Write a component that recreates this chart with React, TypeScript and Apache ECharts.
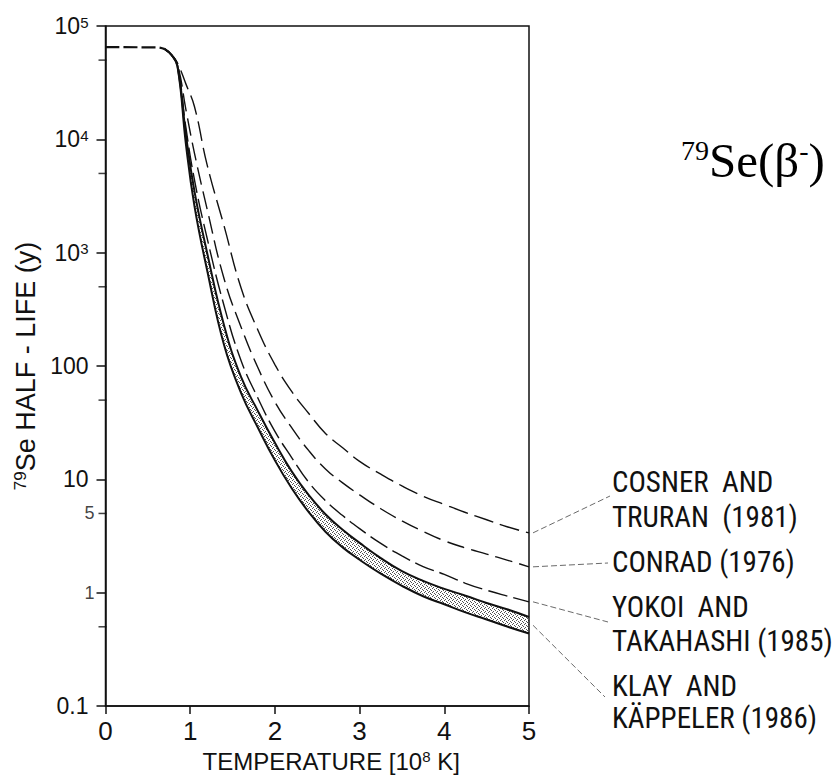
import React, { useEffect, useRef } from 'react';
import * as echarts from 'echarts';

// ---- data ----
// common flat part (ground-state half-life) before the curves split
const flatTemperature = [0, 0.6, 0.7];
const flatHalfLife = [65000, 64800, 62500];

// temperature grid (10^8 K) for the temperature-dependent curves
const temperature = [0.7, 0.78, 0.85, 0.95, 1.05, 1.2, 1.4, 1.6, 1.8, 2.0, 2.2, 2.4, 2.6, 2.8, 3.0, 3.25, 3.5, 3.75, 4.0, 4.25, 4.5, 4.75, 5.0];
const cosnerTruran = [62500, 55500, 47000, 30700, 19500, 5950, 1720, 490, 207, 103, 59.4, 38.1, 25.3, 19.0, 14.4, 11.1, 8.75, 7.1, 6.0, 5.1, 4.4, 3.8, 3.37];
const conrad = [62500, 55500, 46000, 18200, 7570, 2420, 589, 221, 96.4, 48.2, 28.4, 17.9, 12.3, 9.3, 7.3, 5.5, 4.3, 3.47, 2.87, 2.48, 2.19, 1.93, 1.69];
const yokoiTakahashi = [62500, 55500, 45000, 12600, 4400, 1340, 340, 112, 52, 26.5, 15.5, 9.4, 6.46, 4.79, 3.67, 2.72, 2.11, 1.70, 1.45, 1.21, 1.05, 0.93, 0.83];
const klayUpper = [62500, 55500, 44500, 10900, 3490, 995, 228, 80, 40, 21.0, 11.7, 7.24, 4.9, 3.59, 2.75, 2.02, 1.55, 1.27, 1.08, 0.94, 0.81, 0.71, 0.61];
const klayLower = [62500, 55500, 44000, 9000, 2590, 700, 153, 58, 28.5, 14.7, 8.3, 5.13, 3.43, 2.51, 1.95, 1.47, 1.15, 0.93, 0.79, 0.67, 0.58, 0.50, 0.436];

// axis ticks / labels
const xTicks = [0, 1, 2, 3, 4, 5];
const yDecadeLabels = ['0.1', '', '10', '100', '10{sup|3}', '10{sup|4}', '10{sup|5}']; // for 10^-1 .. 10^5
const yMinorTickValues = [50000, 5000, 500, 50, 5, 0.5];
const ySmallLabelValues = [5, 1];

// legend texts (right side)
const labelCosner = ['COSNER  AND', 'TRURAN  (1981)'];
const labelConrad = ['CONRAD (1976)'];
const labelYokoi = ['YOKOI  AND', 'TAKAHASHI (1985)'];
const labelKlay = ['KLAY  AND', 'KÄPPELER (1986)'];

const SANS = '"Liberation Sans", "Noto Sans", sans-serif';
const NARROW = '"Liberation Sans Narrow", "Roboto Condensed", "DejaVu Sans Condensed", "Liberation Sans", sans-serif';
const SERIF = '"Liberation Serif", "DejaVu Serif", serif';
const INK = '#111';

function pairs(xs: number[], ys: number[]) {
  return xs.map((x, i) => [x, ys[i]]);
}

function makeStipple(): HTMLCanvasElement {
  const cv = document.createElement('canvas');
  cv.width = 4;
  cv.height = 4;
  const ctx = cv.getContext('2d')!;
  ctx.fillStyle = '#ffffff';
  ctx.fillRect(0, 0, 4, 4);
  ctx.fillStyle = '#505050';
  [[0, 0], [2, 1], [1, 3], [3, 2]].forEach(([x, y]) => ctx.fillRect(x, y, 1, 1));
  return cv;
}

export default function App() {
  const ref = useRef<HTMLDivElement>(null);

  useEffect(() => {
    document.body.style.margin = '0';
    const chart = echarts.init(ref.current!, null, { renderer: 'svg' });

    const lineBase = {
      type: 'line' as const,
      symbol: 'none',
      showSymbol: false,
      smooth: 0.45,
      silent: true,
      z: 3,
    };

    // white mask below the lower Klay curve (includes the common flat part so no seam appears)
    const maskTemperature = flatTemperature.slice(0, -1).concat(temperature);
    const maskHalfLife = flatHalfLife.slice(0, -1).concat(klayLower);

    const option: any = {
      animation: false,
      backgroundColor: '#ffffff',
      grid: {
        left: 105.5,
        top: 26,
        width: 423.5,
        height: 680,
        show: true,
        borderColor: INK,
        borderWidth: 1.5,
        backgroundColor: 'transparent',
        containLabel: false,
        outerBoundsMode: 'none',
        z: 10,
      },
      xAxis: {
        type: 'value',
        z: 10,
        min: xTicks[0],
        max: xTicks[xTicks.length - 1],
        interval: 1,
        axisLine: { show: true, lineStyle: { color: INK, width: 1.5 } },
        axisTick: { show: true, inside: false, length: 8, lineStyle: { color: INK, width: 1.5 } },
        splitLine: { show: false },
        axisLabel: { fontSize: 26, color: INK, margin: 12, fontFamily: SANS },
        name: 'TEMPERATURE [10{sup|8} K]',
        nameLocation: 'middle',
        nameGap: 43,
        nameTextStyle: {
          fontSize: 24,
          color: INK,
          fontFamily: SANS,
          padding: [0, 0, 0, 28],
          rich: { sup: { fontSize: 15, verticalAlign: 'top', fontFamily: SANS, color: INK } },
        },
      },
      yAxis: {
        type: 'log',
        z: 10,
        logBase: 10,
        min: 0.1,
        max: 100000,
        axisLine: { show: true, lineStyle: { color: INK, width: 1.5 } },
        axisTick: { show: true, inside: false, length: 9, lineStyle: { color: INK, width: 1.5 } },
        splitLine: { show: false },
        minorTick: { show: false },
        axisLabel: {
          fontSize: 23,
          color: INK,
          margin: 17,
          fontFamily: SANS,
          formatter: (v: number) => {
            const e = Math.round(Math.log10(v));
            return yDecadeLabels[e + 1] ?? '';
          },
          rich: { sup: { fontSize: 15, verticalAlign: 'top', fontFamily: SANS, color: INK } },
        },
        name: '{sup|79}Se HALF - LIFE (y)',
        nameLocation: 'middle',
        nameGap: 58,
        nameTextStyle: {
          fontSize: 27,
          color: INK,
          fontFamily: SANS,
          rich: { sup: { fontSize: 17, verticalAlign: 'top', fontFamily: SANS, color: INK } },
        },
      },
      series: [
        {
          ...lineBase,
          name: 'Klay band',
          data: pairs(temperature, klayUpper),
          lineStyle: { opacity: 0 },
          areaStyle: { origin: 'start', color: { image: makeStipple(), repeat: 'repeat' }, opacity: 1 },
          z: 2,
        },
        {
          ...lineBase,
          name: 'mask',
          data: pairs(maskTemperature, maskHalfLife),
          lineStyle: { opacity: 0 },
          areaStyle: { origin: 'start', color: '#ffffff', opacity: 1 },
          z: 2,
        },
        {
          ...lineBase,
          name: 'Klay and Käppeler (1986) upper',
          data: pairs(temperature, klayUpper),
          lineStyle: { color: INK, width: 2, type: 'solid' },
          z: 4,
        },
        {
          ...lineBase,
          name: 'Klay and Käppeler (1986) lower',
          data: pairs(temperature, klayLower),
          lineStyle: { color: INK, width: 2, type: 'solid' },
          z: 4,
        },
        {
          ...lineBase,
          name: 'common',
          data: pairs(flatTemperature, flatHalfLife),
          lineStyle: { color: INK, width: 2.2, type: [14, 4] },
        },
        {
          ...lineBase,
          name: 'Cosner and Truran (1981)',
          data: pairs(temperature, cosnerTruran),
          lineStyle: { color: INK, width: 1.4, type: [20, 7] },
        },
        {
          ...lineBase,
          name: 'Conrad (1976)',
          data: pairs(temperature, conrad),
          lineStyle: { color: INK, width: 1.4, type: [18, 7] },
        },
        {
          ...lineBase,
          name: 'Yokoi and Takahashi (1985)',
          data: pairs(temperature, yokoiTakahashi),
          lineStyle: { color: INK, width: 1.4, type: [20, 6] },
        },
        {
          type: 'scatter',
          name: 'minor ticks',
          silent: true,
          clip: false,
          symbol: 'rect',
          symbolSize: [8, 1.5],
          symbolOffset: [-3, 0],
          itemStyle: { color: INK },
          data: yMinorTickValues.map((v) => [0, v]),
          z: 11,
        },
        {
          type: 'scatter',
          name: 'small labels',
          silent: true,
          clip: false,
          symbolSize: 0,
          itemStyle: { color: 'transparent' },
          data: ySmallLabelValues.map((v) => [0, v]),
          label: {
            show: true,
            position: 'left',
            distance: 11,
            fontSize: 18,
            color: INK,
            fontFamily: SANS,
            formatter: (p: any) => String(p.value[1]),
          },
          z: 11,
        },
      ],
    };

    chart.setOption(option);

    const last = temperature.length - 1;
    const px = (v: number) => chart.convertToPixel({ gridIndex: 0 }, [5, v]) as number[];
    const pC = px(cosnerTruran[last]);
    const pN = px(conrad[last]);
    const pY = px(yokoiTakahashi[last]);
    const pK = px(Math.sqrt(klayUpper[last] * klayLower[last]));
    const leader = (p: number[], x2: number, y2: number) => ({
      type: 'line',
      silent: true,
      shape: { x1: p[0] + 4, y1: p[1], x2, y2 },
      style: { stroke: '#444', lineWidth: 0.8, lineDash: [6, 3] },
    });
    const label = (text: string, y: number) => ({
      type: 'text',
      silent: true,
      x: 612,
      y,
      style: { text, fontSize: 29, fontFamily: NARROW, fill: INK, align: 'left', verticalAlign: 'middle' },
    });

    chart.setOption({
      graphic: [
        leader(pC, 610, 496),
        leader(pN, 608, 563),
        leader(pY, 608, 622),
        leader(pK, 605, 697),
        label(labelCosner[0], 482),
        label(labelCosner[1], 517),
        label(labelConrad[0], 562),
        label(labelYokoi[0], 607),
        label(labelYokoi[1], 641),
        label(labelKlay[0], 686),
        label(labelKlay[1], 718),
        {
          type: 'text',
          silent: true,
          x: 681,
          y: 136,
          style: {
            text: '{s|79}Se(β{m|-})',
            fontSize: 49,
            fontFamily: SERIF,
            fill: '#000',
            align: 'left',
            verticalAlign: 'top',
            rich: {
              s: { fontSize: 28, fontFamily: SERIF, verticalAlign: 'top', fill: '#000' },
              m: { fontSize: 28, fontFamily: SERIF, verticalAlign: 'top', fill: '#000' },
            },
          },
        },
      ],
    });

    return () => chart.dispose();
  }, []);

  return <div ref={ref} style={{ width: 834, height: 778 }} />;
}
